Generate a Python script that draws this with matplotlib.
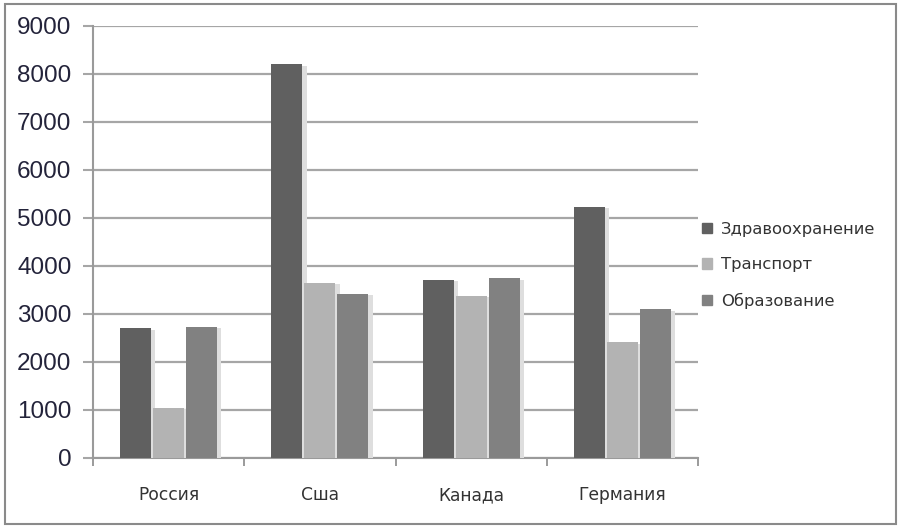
import matplotlib
matplotlib.use("Agg")
import matplotlib.pyplot as plt
import matplotlib.patheffects as pe
import numpy as np

categories = ["Россия", "Сша", "Канада", "Германия"]
series_names = ["Здравоохранение", "Транспорт", "Образование"]
health = [2700, 8200, 3710, 5230]
transport = [1050, 3650, 3380, 2410]
education = [2730, 3420, 3740, 3100]
yticks = [0, 1000, 2000, 3000, 4000, 5000, 6000, 7000, 8000, 9000]

colors = ["#606060", "#b3b3b3", "#818181"]

fig = plt.figure(figsize=(9, 5.27), dpi=100)
fig.patches.append(plt.Rectangle((5/900, 1-524/527), 891/900, 520/527,
                                 transform=fig.transFigure, fill=False,
                                 edgecolor="#8a8a8a", linewidth=1.5))
ax = fig.add_axes([93/900, 1-458/527, 605/900, 432/527])

x = np.arange(len(categories))
w = 0.218
shadow = [pe.SimplePatchShadow(offset=(3, -1), shadow_rgbFace="#dedede", alpha=1.0), pe.Normal()]
for i, (vals, name) in enumerate(zip([health, transport, education], series_names)):
    bars = ax.bar(x + (i - 1) * w, vals, width=w - 0.012, color=colors[i],
                  label=name, zorder=3, edgecolor="none")
    for b in bars:
        b.set_path_effects(shadow)

ax.set_xlim(-0.5, len(categories) - 0.5)
ax.set_ylim(0, 9000)
ax.set_yticks(yticks)
ax.set_yticklabels([str(v) for v in yticks], fontsize=17.5, family="Liberation Sans", color="#23233a")
ax.yaxis.grid(True, color="#a6a6a6", linewidth=1.6, zorder=0)
ax.set_axisbelow(True)

ax.set_xticks(np.arange(-0.5, len(categories), 1.0))
ax.set_xticklabels([])
ax.set_xticks(x, minor=True)
ax.set_xticklabels(categories, minor=True, fontsize=12.3, family="DejaVu Sans", color="#333333")
ax.tick_params(axis="x", which="minor", length=0, pad=20.5)
ax.tick_params(axis="x", which="major", length=6, color="#8a8a8a", width=1.2, direction="out")
ax.tick_params(axis="y", length=7, color="#a6a6a6", width=1.5, pad=8.5)

for s in ["top", "right"]:
    ax.spines[s].set_visible(False)
for s in ["left", "bottom"]:
    ax.spines[s].set_color("#9a9a9a")
    ax.spines[s].set_linewidth(1.5)

handles = [plt.Rectangle((0, 0), 1, 1, color=c) for c in colors]
fig.legend(handles, series_names, loc="upper left", bbox_to_anchor=(687/900, 1-207/527),
           frameon=False, prop={"family": "DejaVu Sans", "size": 11.8},
           handlelength=0.6, handleheight=0.6, handletextpad=0.6, labelspacing=1.25,
           labelcolor="#333333")

fig.savefig("out.png", dpi=100)
